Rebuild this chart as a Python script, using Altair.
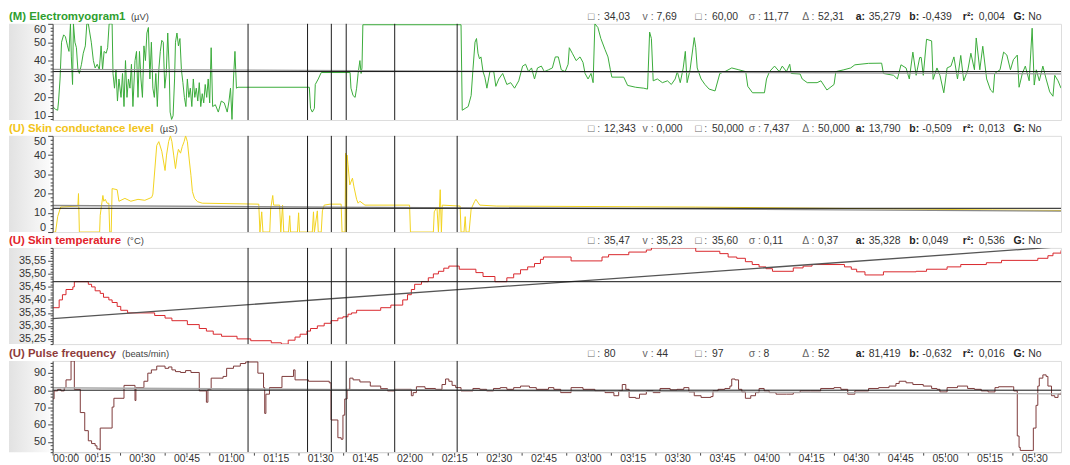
import altair as alt
import pandas as pd

# ---------------- data (time in minutes from start) ----------------
EMG_T = [
    0, 1, 1.7, 2, 2.5, 3, 3.7, 4.3, 5, 5.5,
    6, 6.3, 6.7, 7, 7.5, 8, 8.5, 9, 9.7, 10.3,
    11, 11.5, 12, 12.5, 13, 13.7, 14.3, 15, 15.7, 16.3,
    16.8, 17.3, 18, 18.5, 19, 20, 20.3, 20.8, 21.3, 21.8,
    22.3, 23, 23.5, 24, 24.5, 25, 25.5, 26, 26.5, 27,
    27.7, 28.2, 28.7, 29.2, 29.7, 30.2, 30.7, 31.2, 31.7, 32.2,
    32.7, 33.2, 33.7, 34.2, 34.7, 35.2, 35.7, 36.2, 36.7, 37.2,
    37.7, 38.2, 38.7, 39.2, 39.5, 40, 40.5, 41, 41.3, 41.8,
    42.3, 42.8, 43.3, 43.8, 44.3, 44.8, 45.3, 45.8, 46.3, 46.8,
    47.3, 47.8, 48.3, 48.8, 49.3, 49.8, 50.3, 50.8, 51.3, 51.8,
    52.3, 52.8, 53.3, 53.8, 54.7, 55.7, 56.7, 57.7, 58.7, 59.3,
    59.8, 60.3, 60.8, 61.3, 61.8, 62.3, 86.3, 86.7, 87.3, 88,
    88.3, 89.3, 90.3, 100, 100.3, 101, 101.7, 102.2, 102.7, 103.3,
    103.7, 104, 104.3, 137.3, 137.7, 138.7, 139.7, 140.7, 141.3, 142,
    142.5, 143, 143.5, 144, 144.7, 145.3, 146, 147, 148.3, 149,
    150, 151.3, 152.7, 154, 155.3, 156.7, 158, 159, 160, 161,
    162, 163, 164.3, 165.3, 166.7, 168, 169, 170, 171, 172.3,
    173.3, 173.7, 174.7, 176, 177.3, 178.3, 179, 180, 181, 181.7,
    182.3, 183.3, 184.3, 185.7, 186.7, 187.5, 188, 192, 193.3, 196,
    198.7, 200, 200.7, 201.3, 201.9, 203.3, 205, 206.7, 208, 209.3,
    210, 211, 212, 212.7, 213.3, 214.3, 215.7, 216.2, 216.7, 218,
    219.3, 220.7, 222.7, 224.3, 226, 228.3, 230.7, 233, 233.7, 235.3,
    239.3, 240, 241, 242.7, 244.3, 245.3, 246.7, 247.8, 248.3, 251.3,
    252, 253.7, 257, 258.3, 260.3, 262.7, 263.3, 266, 268.3, 269.7,
    274.3, 278.7, 279.3, 282.7, 284, 285.2, 286.9, 288, 289.2, 290.3,
    291.5, 292, 292.7, 293.8, 295.5, 296, 297.3, 298.3, 299.6, 300.7,
    302, 303, 304.2, 305.3, 306.3, 307.7, 308.7, 309.9, 310.5, 311.7,
    312.7, 314, 315.3, 316.2, 316.7, 318.5, 319.7, 320.8, 322, 323,
    324.3, 324.9, 326, 327, 328.3, 329.3, 330, 330.7, 331.7, 332.9,
    334, 335.2, 336.3, 336.9, 338, 339]
EMG_V = [
    15, 13.5, 13, 18, 30, 50, 54, 53, 48, 45,
    60, 42, 27, 60, 50, 47, 35, 33, 38, 44,
    48, 60, 60, 55, 50, 40, 36, 38, 35, 48,
    35, 45, 44, 47, 60, 60, 33, 25, 35, 18,
    30, 20, 33, 15, 40, 20, 30, 25, 38, 15,
    40, 45, 20, 45, 30, 20, 48, 40, 55, 58,
    30, 50, 25, 20, 33, 15, 35, 45, 51, 50,
    25, 33, 55, 35, 12, 8, 10, 30, 50, 55,
    48, 52, 35, 28, 20, 15, 30, 20, 25, 15,
    30, 20, 25, 18, 28, 15, 22, 17, 27, 20,
    30, 17, 47, 15, 16, 12, 18, 17, 12, 18,
    25, 8, 30, 45, 25, 25.5, 25.5, 14, 12, 14,
    27, 30, 33.5, 33.5, 25, 21, 20, 25, 33, 40,
    33, 36, 59.5, 59.5, 13, 14, 15, 21, 35, 50,
    52, 44, 41, 42, 34, 31, 25, 34, 34, 26,
    30, 33, 27, 28, 25, 29, 37, 38, 34, 36,
    30, 36, 37, 34, 35, 36, 42, 42, 35, 34,
    38, 47, 44, 40, 42, 39, 33, 30, 33, 28,
    60, 58, 52, 46, 42, 35, 31, 31, 26.5, 25.5,
    25, 24.5, 55.5, 52, 29, 30, 28, 29, 27, 30,
    34, 28, 36, 45, 28, 35, 52.5, 47, 36, 30,
    27, 24.5, 23.5, 33, 34, 36, 35, 34, 26, 22.5,
    22.5, 30, 34, 37, 34, 37, 34, 38, 33, 32.7,
    30, 28, 28, 29, 24, 27, 34, 35, 36, 37.7,
    38.5, 38.6, 33, 32, 30, 37.7, 36, 30, 44.6, 32,
    41.7, 41.7, 32, 51.6, 50.7, 29.8, 36, 32, 22.5, 36,
    37, 42, 30, 42.8, 29, 35, 44, 35, 52.3, 35,
    47.8, 30, 24, 22.6, 33, 35, 44.6, 43, 35, 40.5,
    43, 25.5, 33, 37, 29, 57.6, 26.7, 35, 29, 37,
    30, 23, 20.6, 32, 29, 25]

SCL_T = [
    0, 1, 1.7, 2.7, 8.5, 8.7, 9, 15.8, 16, 16.6,
    16.9, 17.2, 17.7, 18.3, 18.9, 19.2, 19.7, 20, 21.7, 22.3,
    24.3, 26.3, 28.7, 31, 33.3, 33.7, 35, 35.7, 36.7, 37.8,
    38.3, 39, 39.6, 40.1, 40.7, 41.3, 41.9, 42.3, 43, 43.6,
    44.2, 44.7, 45.3, 45.9, 46.5, 47, 47.7, 48.7, 50.3, 69.3,
    69.7, 70.3, 70.7, 73, 73.3, 74, 74.3, 76.3, 76.7, 77.3,
    77.7, 79.3, 79.7, 80, 82.3, 82.7, 83, 87.3, 87.7, 88,
    89, 89.3, 90.3, 90.7, 91.3, 93.3, 97, 97.3, 98.3, 98.5,
    98.8, 99, 99.3, 99.9, 100.8, 101.3, 102.2, 102.7, 103.3, 105,
    120, 120.3, 128, 128.3, 129.2, 129.7, 130.3, 130.7, 131, 137,
    137.3, 138.3, 138.7, 139, 140, 140.7, 141.9, 142.3, 143.6, 149.3,
    216, 249.3, 282.7, 316, 339]
SCL_V = [
    0, 0, 8, 13, 13.5, 20, 0, 0, 8.7, 15.6,
    19, 16, 17, 15, 15, 0, 0, 22.6, 22, 16,
    17.5, 16, 17, 16.5, 18, 19.7, 45, 47, 42, 32,
    40, 47, 50, 47, 40, 33, 40, 43, 41, 44.5,
    47, 50, 47, 38, 29.5, 21, 17.5, 15.8, 15, 14.5,
    0, 10.5, 0, 0, 12, 19, 14, 14, 0, 14,
    0, 0, 8.5, 0, 0, 10, 0, 0, 10.5, 0,
    11, 0, 0, 11, 14, 14.5, 14.5, 0, 0, 41,
    0, 40, 35, 24.5, 28, 23.5, 17, 15, 16, 14,
    14, 0, 0, 10.5, 13, 0, 22, 0, 14, 13.5,
    0, 0, 8, 0, 0, 12, 16, 17, 14, 13.5,
    13, 12.5, 12, 11.5, 11.2]

TEMP_T = [
    0, 2.2, 3.3, 4.5, 6.8, 7.3, 12, 13.1, 14.3, 16,
    17.1, 18.9, 20, 21.7, 22.9, 25.2, 34.3, 37.8, 40.1, 45.3,
    49.3, 51.7, 54, 56.8, 62, 66.6, 73.5, 76.9, 79.2, 81.5,
    83.2, 85.5, 86.7, 89, 91.3, 93.6, 95.9, 97.6, 99.3, 100.5,
    102.2, 110.3, 113.7, 117.7, 119.3, 120.6, 121.7, 124, 126.3, 128,
    129.7, 131.5, 133.2, 136.7, 142.3, 144.7, 148.7, 152.7, 155, 157.3,
    159.7, 162, 164, 165, 174.3, 184.7, 186.9, 193.7, 199.6, 201.3,
    216.2, 224.3, 227.1, 230, 232.9, 235.2, 237.5, 239.8, 242, 249,
    252.3, 255.3, 266.2, 268.5, 270.3, 273.1, 279.3, 290.3, 293.8, 300.7,
    305.3, 313.9, 319, 331.2, 334.6, 336.3, 339]
TEMP_V = [
    35.37, 35.40, 35.42, 35.44, 35.45, 35.47, 35.46, 35.45, 35.435, 35.425,
    35.41, 35.40, 35.39, 35.375, 35.36, 35.35, 35.34, 35.33, 35.32, 35.305,
    35.29, 35.28, 35.268, 35.26, 35.25, 35.243, 35.235, 35.23, 35.245, 35.257,
    35.268, 35.28, 35.29, 35.30, 35.31, 35.32, 35.33, 35.335, 35.345, 35.35,
    35.36, 35.37, 35.38, 35.40, 35.42, 35.44, 35.46, 35.47, 35.485, 35.50,
    35.51, 35.522, 35.53, 35.518, 35.505, 35.49, 35.47, 35.485, 35.50, 35.516,
    35.527, 35.54, 35.556, 35.565, 35.55, 35.565, 35.574, 35.584, 35.592, 35.60,
    35.587, 35.578, 35.565, 35.56, 35.547, 35.536, 35.527, 35.52, 35.51, 35.523,
    35.53, 35.536, 35.527, 35.518, 35.508, 35.496, 35.508, 35.51, 35.518, 35.527,
    35.536, 35.543, 35.552, 35.56, 35.57, 35.58, 35.59]

PULSE_T = [
    0, 0.5, 1.7, 2.8, 3.9, 4.5, 6.2, 7.3, 9.3, 10.8,
    12, 13.1, 14.3, 14.9, 15.8, 16, 20, 20.6, 24, 27.7,
    28, 30.7, 32, 33.2, 35, 37.8, 39, 40.1, 41.3, 43,
    44.7, 46.5, 49.3, 51.7, 52.2, 53.3, 57.3, 58.5, 60.8, 63.1,
    64.9, 69, 70.9, 71.3, 71.7, 72.9, 77.1, 81, 81.5, 86,
    93, 93.6, 95.9, 97, 97.6, 98.2, 99, 99.9, 101, 103.3,
    106.8, 110.3, 112.6, 114.9, 120.6, 121.2, 122.3, 125.2, 128.7, 130.9,
    132.1, 133.2, 134.3, 135.5, 137.3, 141.3, 143.6, 145.9, 148.2, 150.5,
    152.7, 155, 157.3, 160.3, 162.6, 166.7, 168.5, 170.8, 174.3, 178.3,
    182.3, 185.7, 188.7, 190.3, 191.5, 192.7, 193.8, 196, 197.3, 199.6,
    201.9, 204.2, 207.6, 209.9, 212.2, 213.9, 215.7, 218, 221.3, 222,
    223.7, 226, 227.7, 228.3, 229.4, 230.6, 231.7, 232.9, 234.7, 236.3,
    237.5, 239.2, 240.9, 243.2, 246.7, 249, 251.3, 254.7, 258.2, 262.7,
    265, 267.3, 269.7, 274.3, 277.7, 281.2, 283.5, 284.6, 286.9, 289.2,
    292.7, 295.5, 297.3, 298.3, 300.7, 304.2, 307.6, 309.9, 312.2, 314.5,
    316.8, 318, 322.6, 323.1, 324.3, 324.9, 325.3, 329.3, 329.7, 330.6,
    331.2, 331.7, 332.9, 334, 334.6, 335.8, 336.9, 338, 339]
PULSE_V = [
    75, 79.6, 80.5, 79.6, 81.5, 86, 97, 80.5, 67, 56.5,
    50.6, 49, 47.7, 45.9, 45.3, 58, 70.2, 75.3, 82.8, 74,
    81.5, 85.2, 89.9, 91.8, 94, 92.7, 93.5, 91.8, 90.8, 90.3,
    91.4, 90.3, 79.6, 73, 80.5, 87, 88, 92.7, 94, 95.5,
    96.4, 89.9, 81.5, 66.5, 77.7, 81.5, 88, 91.8, 86, 85.2,
    84.3, 62.7, 52.4, 51.5, 65.5, 74.9, 80.5, 87, 86, 84.8,
    82.4, 80.9, 79.6, 80.5, 76.8, 78.6, 82, 81, 80.5, 83.3,
    86.5, 85.2, 82.8, 81.5, 79.6, 81, 80.5, 79.6, 81, 81.5,
    80.5, 81.5, 82.4, 81.5, 80.5, 81.5, 80.5, 78.6, 81.5, 80.5,
    79.6, 78.6, 76.8, 79.6, 83.3, 80.5, 75.8, 75.3, 77.7, 79.6,
    78.6, 81, 80.2, 80.5, 81.5, 79, 76.8, 75.8, 76.3, 79.6,
    80.5, 81, 82.4, 86.5, 86, 80.5, 79, 75.3, 76.8, 78.6,
    81, 79.6, 78.6, 77.7, 77.7, 78.6, 79.6, 79.6, 81, 81.5,
    80.5, 77.7, 79.6, 81, 81.5, 82.4, 83.9, 85.2, 84.3, 83.3,
    82.4, 81, 80.5, 79, 81.5, 82.4, 81, 80.5, 79.6, 79,
    81.5, 82, 82, 79.6, 53.4, 46.8, 45, 45, 58, 71.2,
    82.4, 87, 88.9, 88, 82.4, 76.8, 75.8, 77.7, 78.6]

MARKER_T = [65.7, 85.7, 93.7, 98.7, 115.0, 136.0]

PANEL_NAMES = ["(M) Electromyogram1", "(U) Skin conductance level",
               "(U) Skin temperature", "(U) Pulse frequency"]
PANEL_UNITS = ["(µV)", "(µS)", "(°C)", "(beats/min)"]
DOMAINS = [[7.69, 60], [0, 50], [35.23, 35.60], [44, 97]]
MEANS = [34.03, 12.343, 35.47, 80]
REG_A = [35.279, 13.790, 35.328, 81.419]
REG_B = [-0.439, -0.509, 0.049, -0.632]   # per hour

STAT_KEYS = ["□ :", "v :", "□ :", "σ :", "Δ :", "a:", "b:", "r²:", "G:"]
STATS_EMG = ["34,03", "7,69", "60,00", "11,77", "52,31", "35,279", "-0,439", "0,004", "No"]
STATS_SCL = ["12,343", "0,000", "50,000", "7,437", "50,000", "13,790", "-0,509", "0,013", "No"]
STATS_TEMP = ["35,47", "35,23", "35,60", "0,11", "0,37", "35,328", "0,049", "0,536", "No"]
STATS_PULSE = ["80", "44", "97", "8", "52", "81,419", "-0,632", "0,016", "No"]

MAJOR_EMG = [10, 20, 30, 40, 50, 60]
MAJOR_SCL = [0, 10, 20, 30, 40, 50]
MAJOR_TEMP = [35.25, 35.30, 35.35, 35.40, 35.45, 35.50, 35.55]
MAJOR_PULSE = [50, 60, 70, 80, 90]
X_LABEL_STEP = 15      # minutes between time labels
X_MINOR_STEP = 7.5

# ---------------- layout / style ----------------
T_MAX = 339
PLOT_W = 1017
HEIGHTS = [97, 97, 97, 92]
FONT = "Liberation Sans"
TITLE_COLORS = ["#2e9e2e", "#f2c419", "#e3232b", "#8e3b3b"]
LINE_COLORS = ["#3aab3a", "#f2d21e", "#d9262c", "#7d3a3a"]
REG_COLORS = ["#9a9a9a", "#8a8a8a", "#555555", "#aaaaaa"]
UNIT_X = [79, 108, 75, 70]
STAT_X = [540, 595, 648, 702, 756, 810, 864, 918, 969]
STAT_DX = [16, 14, 17, 15, 16, 13, 13, 16, 15]
STAT_BOLD = [False, False, False, False, False, True, True, True, True]
GRAD = {"gradient": "linear", "x1": 0, "x2": 1, "y1": 0, "y2": 0,
        "stops": [{"offset": 0, "color": "#e2e2e2"},
                  {"offset": 1, "color": "#fbfbfb"}]}


def y_axis(majors, minors, fmt):
    vals = sorted(set(majors) | set(minors))
    arr = "[" + ",".join(repr(m) for m in majors) + "]"
    test = f"indexof({arr}, datum.value) >= 0"
    return alt.Axis(values=vals, title=None, grid=False, zindex=1,
                    labelExpr=f"{test} ? {fmt} : ''",
                    tickSize={"condition": {"test": test, "value": 5}, "value": 2.5},
                    labelFlush=True, labelOverlap=False, labelPadding=2,
                    labelFont=FONT, labelFontSize=11, labelColor="#333333",
                    domainColor="#444444", tickColor="#444444")


def x_axis():
    vals = [X_MINOR_STEP * i for i in range(int(330 / X_MINOR_STEP) + 1)]
    test = f"datum.value % {X_LABEL_STEP} === 0"
    lab = ("(floor(datum.value/60) < 10 ? '0' : '') + floor(datum.value/60) + ':' + "
           "(datum.value % 60 < 10 ? '0' : '') + (datum.value % 60)")
    return alt.Axis(values=vals, title=None, grid=False, zindex=1,
                    labelExpr=f"{test} ? {lab} : ''",
                    tickSize=3, labelOverlap=False, labelPadding=-2, labelFlush=True,
                    labelFont=FONT, labelFontSize=10.5, labelColor="#333333",
                    domainColor="#d6d6d6", tickColor="#444444")


one = pd.DataFrame({"k": [0]})


def panel(i, t, v, major, minor, fmt, stats, interp, show_x):
    h = HEIGHTS[i]
    xs = alt.Scale(domain=[0, T_MAX], nice=False, zero=False)
    ys = alt.Scale(domain=DOMAINS[i], nice=False, zero=False)
    X = alt.X("t:Q", scale=xs, axis=x_axis() if show_x else None)
    Y = alt.Y("v:Q", scale=ys, axis=y_axis(major, minor, fmt))

    bg = alt.Chart(one).mark_rect(fill=GRAD).encode(
        x=alt.value(-44), x2=alt.value(-3), y=alt.value(0), y2=alt.value(h))
    line = alt.Chart(pd.DataFrame({"t": t, "v": v})).mark_line(
        color=LINE_COLORS[i], strokeWidth=1, interpolate=interp, clip=True
    ).encode(x=X, y=Y)
    reg_df = pd.DataFrame({"t": [0, T_MAX],
                           "v": [REG_A[i], REG_A[i] + REG_B[i] * T_MAX / 60]})
    reg = alt.Chart(reg_df).mark_line(color=REG_COLORS[i], strokeWidth=1.3, clip=True
                                      ).encode(x=X, y=Y)
    mean = alt.Chart(pd.DataFrame({"v": [MEANS[i]]})).mark_rule(
        color="#111111", strokeWidth=1).encode(y=Y)
    marks = alt.Chart(pd.DataFrame({"t": MARKER_T})).mark_rule(
        color="#1a1a1a", strokeWidth=1).encode(x=X)

    layers = [bg, line, reg, mean, marks]
    layers.append(alt.Chart(one).mark_text(
        align="left", baseline="alphabetic", font=FONT, fontSize=11.5,
        fontWeight="bold", color=TITLE_COLORS[i]
    ).encode(x=alt.value(-44), y=alt.value(-4), text=alt.value(PANEL_NAMES[i])))
    layers.append(alt.Chart(one).mark_text(
        align="left", baseline="alphabetic", font=FONT, fontSize=9.5,
        color="#444444"
    ).encode(x=alt.value(UNIT_X[i]), y=alt.value(-4), text=alt.value(PANEL_UNITS[i])))
    for k in range(len(STAT_KEYS)):
        layers.append(alt.Chart(one).mark_text(
            align="left", baseline="alphabetic", font=FONT, fontSize=10.5,
            fontWeight="bold" if STAT_BOLD[k] else "normal",
            color="#222222" if STAT_BOLD[k] else "#666666"
        ).encode(x=alt.value(STAT_X[k]), y=alt.value(-4), text=alt.value(STAT_KEYS[k])))
        layers.append(alt.Chart(one).mark_text(
            align="left", baseline="alphabetic", font=FONT, fontSize=10.5,
            color="#333333"
        ).encode(x=alt.value(STAT_X[k] + STAT_DX[k]), y=alt.value(-4),
                 text=alt.value(stats[k])))
    return alt.layer(*layers).properties(width=PLOT_W, height=h)


minor_emg = [8 + 2 * k for k in range(27)]
minor_scl = [2 * k for k in range(26)]
minor_temp = [round(35.23 + 0.01 * k, 2) for k in range(38)]
minor_pulse = [44 + 2 * k for k in range(27)]

fmt_int = "format(datum.value, 'd')"
fmt_temp = "replace(format(datum.value, '.2f'), '.', ',')"

p1 = panel(0, EMG_T, EMG_V, MAJOR_EMG, minor_emg, fmt_int, STATS_EMG, "linear", False)
p2 = panel(1, SCL_T, SCL_V, MAJOR_SCL, minor_scl, fmt_int, STATS_SCL, "linear", False)
p3 = panel(2, TEMP_T, TEMP_V, MAJOR_TEMP, minor_temp, fmt_temp, STATS_TEMP, "step-after", False)
p4 = panel(3, PULSE_T, PULSE_V, MAJOR_PULSE, minor_pulse, fmt_int, STATS_PULSE, "step-after", True)

chart = alt.vconcat(p1, p2, p3, p4, spacing=0).properties(
    padding={"left": 0, "top": 0, "right": 0, "bottom": 0},
    background="white",
).configure_view(stroke="#d6d6d6", strokeWidth=1).configure(font=FONT)

chart.save("out.html", embed_options={"renderer": "svg", "actions": False})
